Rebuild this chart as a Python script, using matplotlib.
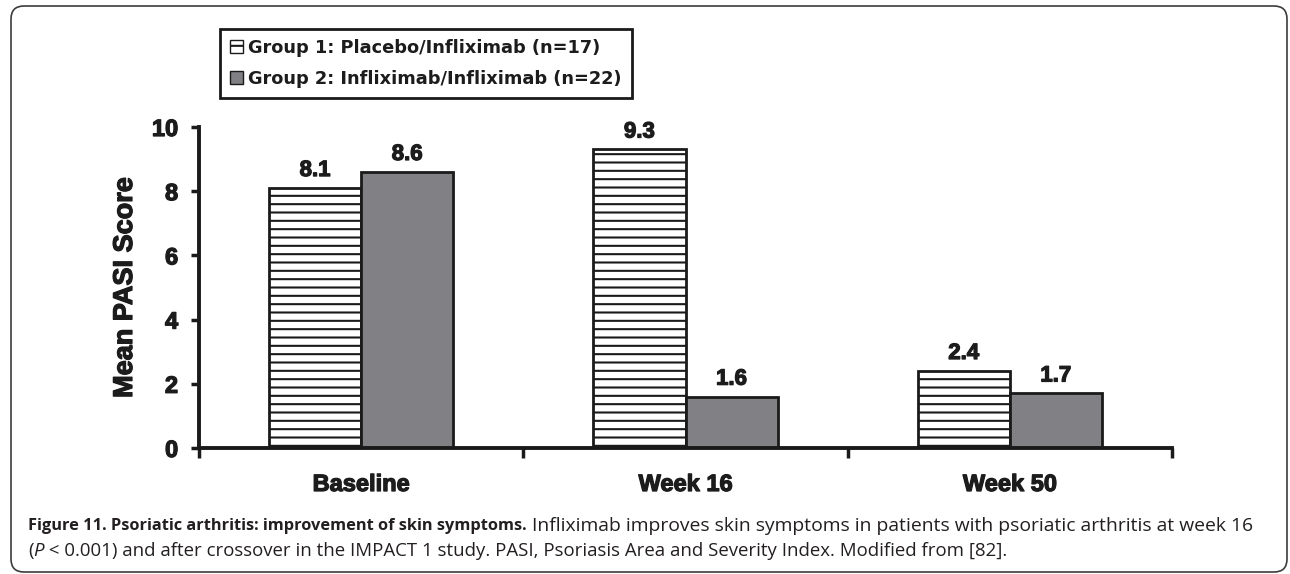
import matplotlib.pyplot as plt
import matplotlib.patheffects as pe
from matplotlib.patches import FancyBboxPatch
import numpy as np

# data
categories = ['Baseline', 'Week 16', 'Week 50']
group1 = [8.1, 9.3, 2.4]
group2 = [8.6, 1.6, 1.7]
legend_labels = ['Group 1: Placebo/Infliximab (n=17)',
                 'Group 2: Infliximab/Infliximab (n=22)']
yticks = [0, 2, 4, 6, 8, 10]

cap_bold = 'Figure 11. Psoriatic arthritis: improvement of skin symptoms.'
cap_rest1 = ' Infliximab improves skin symptoms in patients with psoriatic arthritis at week 16'
cap_line2 = ' < 0.001) and after crossover in the IMPACT 1 study. PASI, Psoriasis Area and Severity Index. Modified from [82].'

plt.rcParams['font.family'] = ['Liberation Sans', 'DejaVu Sans']
plt.rcParams['hatch.linewidth'] = 1.5
plt.rcParams['hatch.color'] = '#4a4a4a'

TXT = '#1c1c1c'
heavy = [pe.withStroke(linewidth=0.9, foreground=TXT)]

W, H = 1290, 574
fig = plt.figure(figsize=(W / 100, H / 100), dpi=100)

# outer rounded frame (in inches so corners stay round)
frame = FancyBboxPatch((11 / 100, 2 / 100), 1276 / 100, 566 / 100,
                       boxstyle='round,pad=0,rounding_size=0.13',
                       transform=fig.dpi_scale_trans, fill=False,
                       edgecolor='#3c3c3c', linewidth=1.2)
fig.add_artist(frame)

ax = fig.add_axes([199 / W, 1 - 448 / H, 973 / W, 321 / H])

x = np.arange(len(categories))
w = 0.284
b1 = ax.bar(x - w / 2, group1, w, facecolor='white', edgecolor='#1a1a1a',
            hatch='--', linewidth=2, label=legend_labels[0])
b2 = ax.bar(x + w / 2, group2, w, facecolor='#808085', edgecolor='#1a1a1a',
            linewidth=2, label=legend_labels[1])

for bars in (b1, b2):
    for t in ax.bar_label(bars, labels=['%.1f' % v for v in bars.datavalues],
                          padding=5, fontsize=16, fontweight='bold', color=TXT):
        t.set_path_effects(heavy)

ax.set_xlim(-0.5, 2.5)
ax.set_ylim(0, 10)
ax.set_yticks(yticks)
ax.set_yticklabels([str(t) for t in yticks], fontsize=17, fontweight='bold',
                   color=TXT)
ax.set_xticks(x)
ax.set_xticklabels(categories, fontsize=17, fontweight='bold', color=TXT)
ax.set_xticks([-0.5, 0.5, 1.5, 2.5], minor=True)
ax.tick_params(axis='x', which='major', length=0, pad=18)
ax.tick_params(axis='x', which='minor', length=7, width=2.5, direction='out',
               color='#1a1a1a')
ax.tick_params(axis='y', length=6, width=2.5, direction='out', pad=9,
               color='#1a1a1a')
for t in ax.get_xticklabels() + ax.get_yticklabels():
    t.set_path_effects(heavy)

ax.set_ylabel('Mean PASI Score', fontsize=19.5, fontweight='bold', color=TXT,
              path_effects=heavy)
ax.yaxis.set_label_coords(-61 / 973, 0.5)

for s in ['top', 'right']:
    ax.spines[s].set_visible(False)
for s in ['left', 'bottom']:
    ax.spines[s].set_linewidth(2.8)
    ax.spines[s].set_color('#1a1a1a')

leg = fig.legend(handles=[b1, b2], loc='upper left',
                 bbox_to_anchor=(220 / W, 1 - 29 / H),
                 prop={'family': 'DejaVu Sans', 'weight': 'bold', 'size': 12.8},
                 fancybox=False, edgecolor='#1a1a1a', framealpha=1,
                 handlelength=0.75, handleheight=0.75, handletextpad=0.3,
                 borderpad=0.55, labelspacing=0.75, borderaxespad=0)
leg.get_frame().set_linewidth(2)
for t in leg.get_texts():
    t.set_color(TXT)
for h in leg.legend_handles:
    h.set_linewidth(1)

# caption
cap_font = ['Open Sans', 'DejaVu Sans']
CC = '#231f20'
renderer = fig.canvas.get_renderer()
y1, y2 = 1 - 526 / H, 1 - 551 / H
t1 = fig.text(28 / W, y1, cap_bold, fontsize=11.8, fontweight='bold',
              family=cap_font, va='center', color=CC)
bb = t1.get_window_extent(renderer)
fig.text(bb.x1 / W, y1, cap_rest1, fontsize=13.9,
         family=cap_font, va='center', color=CC)
t3 = fig.text(28 / W, y2, '(', fontsize=13.4,
              family=cap_font, va='center', color=CC)
bb = t3.get_window_extent(renderer)
t4 = fig.text(bb.x1 / W, y2, 'P', fontsize=13.4, style='italic',
              family=cap_font, va='center', color=CC)
bb = t4.get_window_extent(renderer)
fig.text(bb.x1 / W, y2, cap_line2, fontsize=13.4,
         family=cap_font, va='center', color=CC)

fig.savefig('out.png', dpi=100)
